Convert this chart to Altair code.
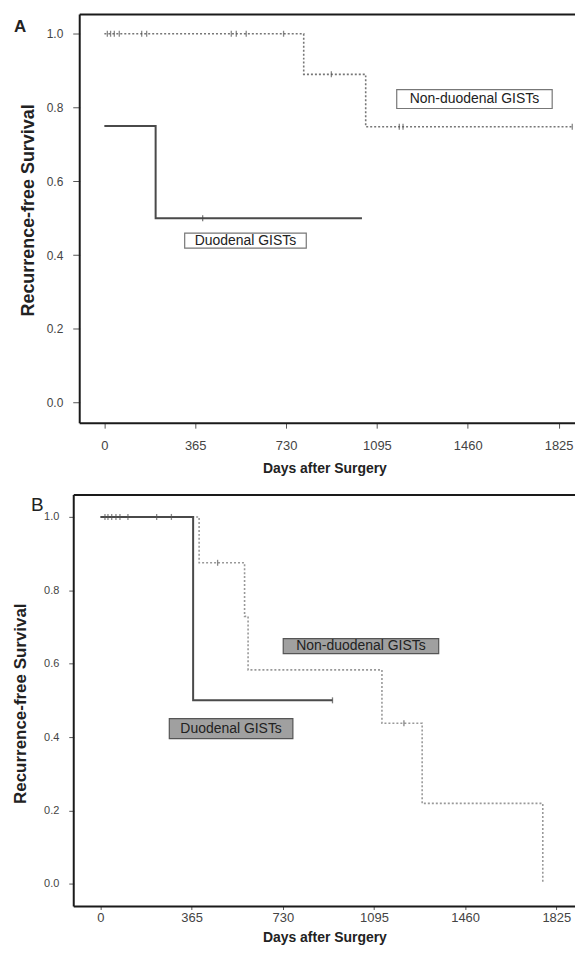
import altair as alt
import pandas as pd

# ---------------- Panel A ----------------
a_non_day = [0, 801, 1050, 1885]
a_non_surv = [1.0, 0.89, 0.748, 0.748]
a_non_cens_day = [12, 25, 40, 60, 150, 170, 510, 530, 570, 720, 912, 1185, 1200, 1880]
a_non_cens_surv = [1.0, 1.0, 1.0, 1.0, 1.0, 1.0, 1.0, 1.0, 1.0, 1.0, 0.89, 0.748, 0.748, 0.748]
a_duo_day = [0, 206, 1035]
a_duo_surv = [0.75, 0.5, 0.5]
a_duo_cens_day = [395]
a_duo_cens_surv = [0.5]
a_label_text = ["Non-duodenal GISTs", "Duodenal GISTs"]
a_label_day = [1487, 567]
a_label_surv = [0.823, 0.439]

# ---------------- Panel B ----------------
b_non_day = [0, 395, 577, 591, 1127, 1288, 1771]
b_non_surv = [1.0, 0.875, 0.729, 0.583, 0.4375, 0.219, 0.0]
b_non_cens_day = [18, 30, 45, 62, 78, 110, 225, 284, 469, 1215]
b_non_cens_surv = [1.0, 1.0, 1.0, 1.0, 1.0, 1.0, 1.0, 1.0, 0.875, 0.4375]
b_duo_day = [0, 371, 929]
b_duo_surv = [1.0, 0.5, 0.5]
b_duo_cens_day = [929]
b_duo_cens_surv = [0.5]
b_label_text = ["Non-duodenal GISTs", "Duodenal GISTs"]
b_label_day = [1043, 523]
b_label_surv = [0.648, 0.423]

x_ticks = [0, 365, 730, 1095, 1460, 1825]
y_ticks = [0.0, 0.2, 0.4, 0.6, 0.8, 1.0]

FONT = "Liberation Sans"


def df(days, surv):
    return pd.DataFrame({"day": days, "surv": surv})


def box_shape(w, h):
    r = h / w
    return f"M-1,{-r}L1,{-r}L1,{r}L-1,{r}Z"


def make_panel(letter, letter_x, letter_y, letter_size, letter_weight,
               W, H, xdom, ydom, frame_x,
               non_day, non_surv, non_cens_day, non_cens_surv,
               duo_day, duo_surv, duo_cens_day, duo_cens_surv,
               lab_text, lab_day, lab_surv, boxes, box_fill, box_stroke,
               y_tick_size, y_label_pad, y_label_size, ytitle_x, ytitle_y, ytitle_size,
               x_tick_size, x_label_pad, xtitle_y, non_color):
    xs = alt.Scale(domain=xdom, nice=False, zero=False)
    ys = alt.Scale(domain=ydom, nice=False, zero=False)
    xa = alt.Axis(values=x_ticks, format="d", title="Days after Surgery", grid=False,
                  domain=False, tickColor="#555", tickWidth=1,
                  tickSize=x_tick_size, labelPadding=x_label_pad, labelFont=FONT,
                  labelFontSize=13, labelColor="#444", titleFont=FONT, titleFontSize=14,
                  titleFontWeight="bold", titleColor="#222", titleY=xtitle_y,
                  titleBaseline="middle")
    ya = alt.Axis(values=y_ticks, format=".1f", title="Recurrence-free Survival", grid=False,
                  domain=False, tickColor="#555", tickWidth=1, offset=-frame_x,
                  tickSize=y_tick_size, labelPadding=y_label_pad, labelFont=FONT,
                  labelFontSize=y_label_size, labelColor="#444", titleFont=FONT,
                  titleFontSize=ytitle_size, titleFontWeight="bold", titleColor="#222",
                  titleX=ytitle_x, titleY=ytitle_y, titleBaseline="middle", titleAngle=270)

    def X(field="day"):
        return alt.X(field, type="quantitative", scale=xs, axis=xa)

    def Y(field="surv"):
        return alt.Y(field, type="quantitative", scale=ys, axis=ya)

    non_line = alt.Chart(df(non_day, non_surv)).mark_line(
        interpolate="step-after", color=non_color, strokeWidth=1.6, strokeDash=[2, 2]
    ).encode(x=X(), y=Y())
    non_cens = alt.Chart(df(non_cens_day, non_cens_surv)).mark_tick(
        orient="vertical", size=6, thickness=1.3, color="#555"
    ).encode(x=X(), y=Y())
    duo_line = alt.Chart(df(duo_day, duo_surv)).mark_line(
        interpolate="step-after", color="#4a4a4a", strokeWidth=2
    ).encode(x=X(), y=Y())
    duo_cens = alt.Chart(df(duo_cens_day, duo_cens_surv)).mark_tick(
        orient="vertical", size=6, thickness=1.3, color="#444"
    ).encode(x=X(), y=Y())

    layers = [non_line, duo_line, non_cens, duo_cens]
    for i, (w, h) in enumerate(boxes):
        ld = pd.DataFrame({"day": [lab_day[i]], "surv": [lab_surv[i]], "txt": [lab_text[i]]})
        box = alt.Chart(ld).mark_point(
            shape=box_shape(w, h), size=w * w, filled=True, fill=box_fill,
            stroke=box_stroke, strokeWidth=1.2, opacity=1
        ).encode(x=X(), y=Y())
        txt = alt.Chart(ld).mark_text(
            font=FONT, fontSize=14, color="#222", align="center", baseline="middle"
        ).encode(x=X(), y=Y(), text="txt:N")
        layers += [box, txt]

    k = pd.DataFrame({"k": [0]})
    top = alt.Chart(k).mark_rule(color="#1a1a1a", strokeWidth=2).encode(
        x=alt.value(frame_x), x2=alt.value(W), y=alt.value(0))
    bottom = alt.Chart(k).mark_rule(color="#1a1a1a", strokeWidth=2).encode(
        x=alt.value(frame_x), x2=alt.value(W), y=alt.value(H))
    left = alt.Chart(k).mark_rule(color="#1a1a1a", strokeWidth=2).encode(
        x=alt.value(frame_x), y=alt.value(0), y2=alt.value(H))
    let = alt.Chart(pd.DataFrame({"t": [letter]})).mark_text(
        font=FONT, fontSize=letter_size, fontWeight=letter_weight, color="#222",
        align="left", baseline="alphabetic"
    ).encode(x=alt.value(letter_x), y=alt.value(letter_y), text="t:N")
    layers += [top, bottom, left, let]
    return alt.layer(*layers).properties(width=W, height=H)


panel_a = make_panel(
    "A", -60, 17, 17, "bold",
    503, 410, [-123, 1891], [-0.056, 1.052], 6,
    a_non_day, a_non_surv, a_non_cens_day, a_non_cens_surv,
    a_duo_day, a_duo_surv, a_duo_cens_day, a_duo_cens_surv,
    a_label_text, a_label_day, a_label_surv,
    [(156, 19), (122, 15)], "white", "#777",
    7, 10, 12, -51, 196, 18,
    5, 11, 46, "#777")

panel_b = make_panel(
    "B", -43, 16, 19, "normal",
    503, 413, [-107, 1900], [-0.062, 1.06], 0,
    b_non_day, b_non_surv, b_non_cens_day, b_non_cens_surv,
    b_duo_day, b_duo_surv, b_duo_cens_day, b_duo_cens_surv,
    b_label_text, b_label_day, b_label_surv,
    [(156, 15), (124, 20)], "#a0a0a0", "#555",
    5, 10, 11, -53, 209, 17,
    3, 2, 31, "#999")

chart = alt.vconcat(panel_a, panel_b, spacing=18).properties(
    padding={"left": 12, "top": 12, "right": 0, "bottom": 0},
    background="white"
).configure_view(stroke=None)

chart.save("out.html", embed_options={"renderer": "svg", "actions": False})
